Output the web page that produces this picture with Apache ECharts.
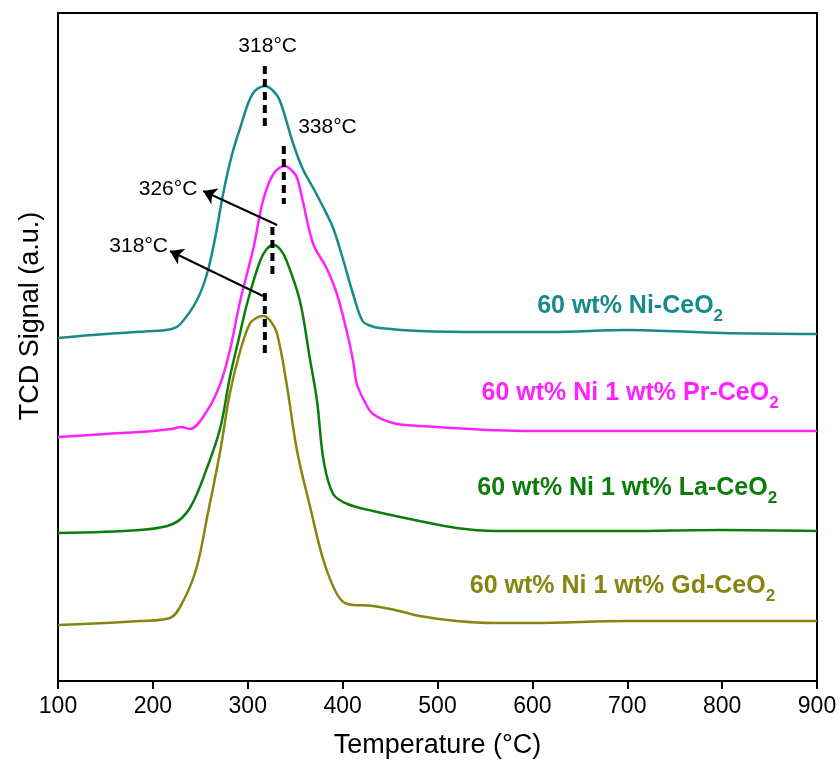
<!DOCTYPE html>
<html>
<head>
<meta charset="utf-8">
<script src="https://cdn.jsdelivr.net/npm/echarts@6/dist/echarts.min.js"></script>
</head>
<body style="margin:0;background:#fff">
<div id="tpr" style="width:840px;height:764px"></div>
<script type="text/javascript">
// TPR curves, [temperature, signal] (signal in arbitrary stacked units)
var niCe = [[100,343],[150,347],[200,350],[220,352],[229,357],[246,380],[257,407],[266,445],[274,487],[283,525],[292,553],[305,587],[318,595],[327,590],[334,580],[348,537],[358,512],[369,493],[380,473],[390,453],[400,423],[411,387],[421,360],[430,355],[439,353],[481,350],[550,349],[620,349],[700,351],[800,348],[900,347]];
var prCe = [[100,244],[150,247],[200,250],[220,252],[230,254],[239,252],[257,270],[271,297],[281,330],[292,380],[306,433],[316,480],[327,507],[339,515],[347,510],[352,503],[358,480],[369,437],[383,413],[394,387],[405,347],[411,320],[415,297],[424,278],[432,267],[453,258],[481,255],[600,250],[700,250],[800,250],[900,250]];
var laCe = [[100,148],[186,151],[221,157],[239,173],[257,213],[271,253],[281,303],[290,340],[300,380],[313,420],[320,432],[327,436],[334,432],[341,420],[355,380],[365,325],[373,280],[380,220],[390,187],[405,177],[432,170],[481,160],[520,153],[560,150],[700,150],[800,151],[900,150]];
var gdCe = [[100,56],[186,60],[218,63],[232,80],[246,113],[257,163],[271,230],[281,287],[292,330],[302,357],[309,363],[316,365],[324,360],[331,347],[341,297],[352,230],[366,173],[380,120],[394,87],[405,77],[432,75],[460,70],[481,65],[520,60],[560,58],[600,58],[700,60],[800,60],[900,60]];

var seriesNames = ['60 wt% Ni-CeO2', '60 wt% Ni 1 wt% Pr-CeO2', '60 wt% Ni 1 wt% La-CeO2', '60 wt% Ni 1 wt% Gd-CeO2'];
var seriesLabelText = ['60 wt% Ni-CeO', '60 wt% Ni 1 wt% Pr-CeO', '60 wt% Ni 1 wt% La-CeO', '60 wt% Ni 1 wt% Gd-CeO'];
var seriesLabelPos = [[703,375],[703,288],[700,193],[695,95]];
var colors = ['#178a8c', '#ff22ff', '#0b7d0b', '#85850f'];

// peak markers (dashed verticals) : [temp, y1, y2]
var peakLines = [[318,615,553],[338,535,477],[326,454,403],[318,388,323]];
// arrows from -> to
var arrows = [[[331,456],[253,490]], [[316,385],[218,430]]];
// annotation text
var noteText = ['318°C', '338°C', '326°C', '318°C'];
var notePos = [[321,635],[384,554],[216,492],[185,435]];

var xTicks = [100, 900, 100]; // min, max, step

var myChart = echarts.init(document.getElementById('tpr'));

var series = [];
[niCe, prCe, laCe, gdCe].forEach(function (d, i) {
    series.push({
        name: seriesNames[i],
        type: 'line',
        data: d,
        smooth: 0.35,
        symbol: 'none',
        lineStyle: {color: colors[i], width: 2.5}
    });
});

peakLines.forEach(function (p) {
    series.push({
        type: 'line',
        data: [[p[0], p[1]], [p[0], p[2]]],
        symbol: 'none',
        silent: true,
        z: 5,
        lineStyle: {color: '#000', width: 4, type: [8, 5]}
    });
});

series.push({
    type: 'lines',
    coordinateSystem: 'cartesian2d',
    symbol: ['none', 'arrow'],
    symbolSize: 13,
    z: 6,
    lineStyle: {color: '#000', width: 2, opacity: 1},
    data: arrows.map(function (a) { return {coords: a}; })
});

series.push({
    type: 'scatter',
    symbolSize: 0,
    z: 7,
    itemStyle: {opacity: 1},
    data: notePos.map(function (p, i) {
        return {value: p, label: {show: true, formatter: noteText[i]}};
    }),
    label: {position: 'inside', color: '#000', fontSize: 21, fontFamily: 'Liberation Sans'}
});

series.push({
    type: 'scatter',
    symbolSize: 0,
    z: 7,
    itemStyle: {opacity: 1},
    data: seriesLabelPos.map(function (p, i) {
        return {
            value: p,
            label: {
                show: true,
                formatter: '{a|' + seriesLabelText[i] + '}{s|2}',
                rich: {
                    a: {color: colors[i], fontSize: 25, fontWeight: 'bold', fontFamily: 'Liberation Sans', lineHeight: 38},
                    s: {color: colors[i], fontSize: 17, fontWeight: 'bold', fontFamily: 'Liberation Sans', lineHeight: 17, verticalAlign: 'bottom'}
                }
            }
        };
    }),
    label: {position: 'inside'}
});

var option = {
    animation: false,
    backgroundColor: '#fff',
    grid: {left: 58, right: 23, top: 13, bottom: 83, show: true, borderColor: '#000', borderWidth: 2},
    xAxis: {
        type: 'value',
        min: xTicks[0],
        max: xTicks[1],
        interval: xTicks[2],
        name: 'Temperature (°C)',
        nameLocation: 'middle',
        nameGap: 51,
        nameTextStyle: {color: '#000', fontSize: 27, fontFamily: 'Liberation Sans'},
        axisLine: {lineStyle: {color: '#000', width: 2}},
        axisTick: {length: 8, lineStyle: {color: '#000', width: 2}},
        axisLabel: {color: '#000', fontSize: 23, margin: 14, fontFamily: 'Liberation Sans'},
        splitLine: {show: false}
    },
    yAxis: {
        type: 'value',
        min: 0,
        max: 668,
        name: 'TCD Signal (a.u.)',
        nameLocation: 'middle',
        nameGap: 14,
        nameTextStyle: {color: '#000', fontSize: 27, fontFamily: 'Liberation Sans', padding: [0, 0, 0, 62]},
        axisLine: {show: true, lineStyle: {color: '#000', width: 2}},
        axisTick: {show: false},
        axisLabel: {show: false},
        splitLine: {show: false}
    },
    series: series
};
myChart.setOption(option);
</script>
</body>
</html>
